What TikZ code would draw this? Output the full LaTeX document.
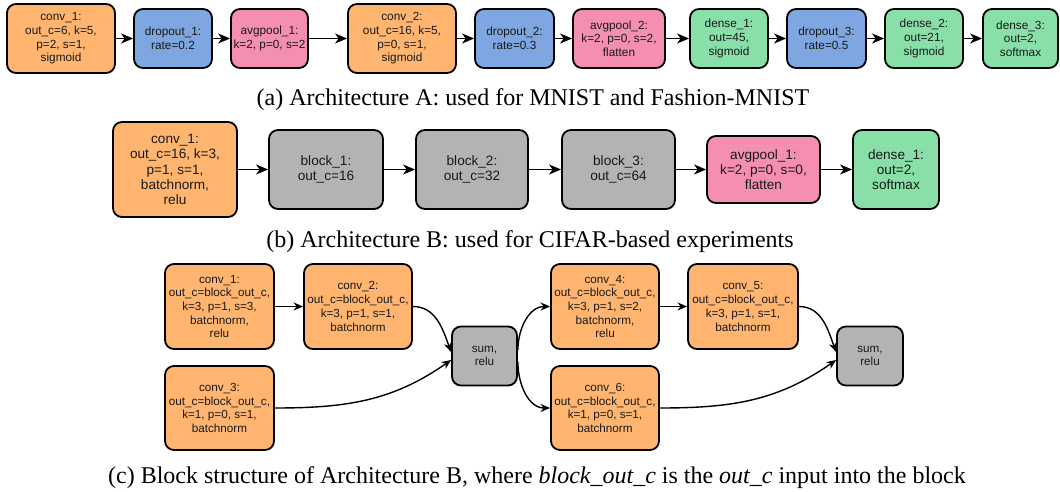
\documentclass[tikz,border=0pt]{standalone}
\usepackage{fontspec}
\setmainfont{Liberation Serif}
\newfontfamily\boxfont{Liberation Sans}
\usetikzlibrary{arrows.meta}
\definecolor{orng}{HTML}{FFB570}
\definecolor{blu}{HTML}{7EA6E0}
\definecolor{pnk}{HTML}{F48FB1}
\definecolor{grn}{HTML}{88E0A8}
\definecolor{gry}{HTML}{B3B3B3}
\begin{document}
\begin{tikzpicture}[x=1pt,y=-1pt,
  box/.style={draw=black, line width=1.8pt, rounded corners=9pt, align=center, inner sep=0pt,
    font=\boxfont\fontsize{11.8}{13.7}\selectfont, text=black!90},
  boxb/.style={box, font=\boxfont\fontsize{13.6}{15.3}\selectfont},
  boxc/.style={box, font=\boxfont\fontsize{11.7}{13.7}\selectfont},
  conv/.style={fill=orng},
  drop/.style={fill=blu},
  pool/.style={fill=pnk},
  dens/.style={fill=grn},
  blk/.style={fill=gry},
  arr/.style={line width=1.5pt, -{Stealth[length=12pt,width=10pt,inset=3.5pt]}},
  arrc/.style={line width=1.4pt, -{Stealth[length=9.5pt,width=8pt,inset=3pt]}},
  captext/.style={font=\fontsize{24}{27}\selectfont}
]
\useasboundingbox (0,0) rectangle (1060,492);

% Row a
\node[box,conv,minimum width=108pt,minimum height=69pt] (a1) at (61,38.5) {conv\_1:\\out\_c=6, k=5,\\p=2, s=1,\\sigmoid};
\node[box,drop,minimum width=78pt,minimum height=59pt] (a2) at (173,38.5) {dropout\_1:\\rate=0.2};
\node[box,pool,minimum width=77pt,minimum height=59pt] (a3) at (269.5,38.5) {avgpool\_1:\\k=2, p=0, s=2};
\node[box,conv,minimum width=108pt,minimum height=69pt] (a4) at (402,38.5) {conv\_2:\\out\_c=16, k=5,\\p=0, s=1,\\sigmoid};
\node[box,drop,minimum width=79pt,minimum height=59pt] (a5) at (514.5,38.5) {dropout\_2:\\rate=0.3};
\node[box,pool,minimum width=92pt,minimum height=59pt] (a6) at (619,38.5) {avgpool\_2:\\k=2, p=0, s=2,\\flatten};
\node[box,dens,minimum width=78pt,minimum height=59pt] (a7) at (729,38.5) {dense\_1:\\out=45,\\sigmoid};
\node[box,drop,minimum width=79pt,minimum height=59pt] (a8) at (826.5,38.5) {dropout\_3:\\rate=0.5};
\node[box,dens,minimum width=78pt,minimum height=59pt] (a9) at (924,38.5) {dense\_2:\\out=21,\\sigmoid};
\node[box,dens,minimum width=75pt,minimum height=59pt] (a10) at (1020.5,38.5) {dense\_3:\\out=2,\\softmax};
\foreach \i/\j in {a1/a2,a2/a3,a3/a4,a4/a5,a5/a6,a6/a7,a7/a8,a8/a9,a9/a10}
  \draw[arr] (\i.east) -- (\j.west);
\node[captext] (capa) at (533,100) {(a) Architecture A: used for MNIST and Fashion-MNIST};

% Row b
\node[boxb,conv,minimum width=124pt,minimum height=95pt] (b1) at (175,169.5) {conv\_1:\\out\_c=16, k=3,\\p=1, s=1,\\batchnorm,\\relu};
\node[boxb,blk,minimum width=114pt,minimum height=79pt] (b2) at (326,169.5) {block\_1:\\out\_c=16};
\node[boxb,blk,minimum width=112pt,minimum height=79pt] (b3) at (472,169.5) {block\_2:\\out\_c=32};
\node[boxb,blk,minimum width=113pt,minimum height=79pt] (b4) at (618.5,169.5) {block\_3:\\out\_c=64};
\node[boxb,pool,minimum width=113pt,minimum height=67pt] (b5) at (763.5,169.5) {avgpool\_1:\\k=2, p=0, s=0,\\flatten};
\node[boxb,dens,minimum width=86pt,minimum height=79pt] (b6) at (896,169.5) {dense\_1:\\out=2,\\softmax};
\foreach \i/\j in {b1/b2,b2/b3,b3/b4,b4/b5,b5/b6}
  \draw[arr] (\i.east) -- (\j.west);
\node[captext] (capb) at (530,242) {(b) Architecture B: used for CIFAR-based experiments};

% Row c
\node[boxc,conv,minimum width=109pt,minimum height=85pt] (c1) at (219.5,306.5) {conv\_1:\\out\_c=block\_out\_c,\\k=3, p=1, s=3,\\batchnorm,\\relu};
\node[boxc,conv,minimum width=108pt,minimum height=85pt] (c2) at (358,306.5) {conv\_2:\\out\_c=block\_out\_c,\\k=3, p=1, s=1,\\batchnorm};
\node[boxc,conv,minimum width=109pt,minimum height=84pt] (c3) at (219.5,408) {conv\_3:\\out\_c=block\_out\_c,\\k=1, p=0, s=1,\\batchnorm};
\node[boxc,blk,minimum width=65pt,minimum height=59pt] (s1) at (484.5,356) {sum,\\relu};
\node[boxc,conv,minimum width=108pt,minimum height=85pt] (c4) at (605,306.5) {conv\_4:\\out\_c=block\_out\_c,\\k=3, p=1, s=2,\\batchnorm,\\relu};
\node[boxc,conv,minimum width=110pt,minimum height=85pt] (c5) at (743,306.5) {conv\_5:\\out\_c=block\_out\_c,\\k=3, p=1, s=1,\\batchnorm};
\node[boxc,conv,minimum width=108pt,minimum height=84pt] (c6) at (605,408) {conv\_6:\\out\_c=block\_out\_c,\\k=1, p=0, s=1,\\batchnorm};
\node[boxc,blk,minimum width=66pt,minimum height=59pt] (s2) at (870,356) {sum,\\relu};

\draw[arrc] (c1.east) -- (c2.west);
\draw[arrc] (c2.east) to[out=0,in=110] ([yshift=4pt]s1.west);
\draw[arrc] (c3.east) to[out=0,in=215] ([yshift=-4pt]s1.west);
\draw[arrc] ([yshift=6pt]s1.east) to[out=90,in=180] (c4.west);
\draw[arrc] ([yshift=-6pt]s1.east) to[out=-90,in=180] (c6.west);
\draw[arrc] (c4.east) -- (c5.west);
\draw[arrc] (c5.east) to[out=0,in=110] ([yshift=4pt]s2.west);
\draw[arrc] (c6.east) to[out=0,in=215] ([yshift=-4pt]s2.west);

\node[captext] (capc) at (537,478) {(c) Block structure of Architecture B, where \textit{block\_out\_c} is the \textit{out\_c} input into the block};
\end{tikzpicture}
\end{document}
